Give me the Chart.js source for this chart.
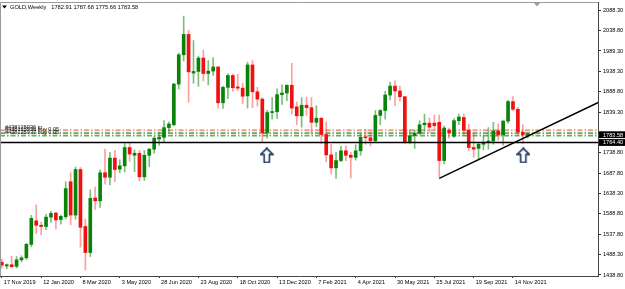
<!DOCTYPE html>
<html><head><meta charset="utf-8">
<script src="https://cdn.jsdelivr.net/npm/chart.js@4.4.1/dist/chart.umd.min.js"></script>
<style>html,body{margin:0;padding:0;background:#fff;}#wrap{width:625px;height:289px;position:relative;}</style>
</head><body><div id="wrap"><canvas id="c" width="625" height="289"></canvas></div>
<script>
// ---------- data ----------
const symbolTitle = "GOLD,Weekly";
const lastBarText = "1782.91 1787.68 1775.66 1783.58";
const opens = [1470,1461,1464,1460,1476,1481,1514,1572,1561,1558,1581,1591,1575,1582,1668,1586,1698,1558,1494,1628,
1621,1690,1679,1726,1699,1707,1752,1733,1738,1680,1733,1748,1773,1777,1801,1808,1908,1980,2030,1935,
1939,1972,1934,1940,1950,1862,1900,1929,1901,1898,1879,1955,1889,1871,1788,1838,1840,1882,1886,1905,
1852,1830,1856,1850,1814,1824,1784,1734,1702,1720,1744,1733,1728,1744,1777,1776,1769,1831,1843,1881,
1903,1891,1877,1764,1781,1787,1808,1812,1812,1814,1720,1795,1780,1818,1826,1795,1752,1750,1760,1765,
1768,1793,1783,1817,1865,1846,1790,1782.91];
const highs = [1478,1466,1485,1484,1486,1517,1585,1611,1569,1588,1595,1593,1586,1668,1690,1704,1703,1576,1648,1655,
1697,1748,1740,1745,1722,1762,1765,1746,1745,1745,1750,1779,1789,1818,1815,1910,1984,2075,2040,2015,
1976,1992,1966,1973,1951,1903,1933,1933,1932,1910,1962,1966,1900,1875,1843,1875,1896,1906,1906,1959,
1864,1875,1876,1875,1855,1826,1815,1760,1740,1755,1756,1740,1759,1785,1797,1790,1843,1845,1890,1912,
1916,1903,1877,1795,1795,1818,1834,1825,1832,1832,1805,1800,1823,1834,1834,1809,1788,1765,1781,1801,
1814,1810,1818,1868,1877,1851,1808,1787.68];
const lows = [1456,1454,1458,1456,1471,1477,1508,1540,1537,1550,1568,1552,1564,1577,1562,1576,1507,1451,1484,1600,
1605,1662,1660,1668,1690,1692,1718,1693,1670,1671,1705,1738,1757,1764,1790,1806,1896,1965,1863,1910,
1902,1916,1906,1929,1849,1848,1873,1890,1892,1860,1849,1850,1854,1764,1775,1822,1823,1858,1867,1834,
1808,1802,1831,1785,1803,1761,1717,1687,1676,1717,1720,1677,1721,1733,1760,1756,1765,1808,1822,1869,
1855,1866,1761,1761,1750,1784,1792,1790,1796,1680,1712,1775,1776,1808,1782,1745,1728,1721,1746,1748,
1760,1770,1758,1812,1842,1781,1762,1775.66];
const closes = [1463,1464,1459,1476,1481,1514,1578,1561,1558,1581,1590,1574,1583,1651,1586,1698,1556,1494,1627,1621,
1690,1679,1726,1698,1707,1752,1736,1738,1680,1733,1748,1775,1777,1801,1810,1908,1980,2030,1938,1939,
1972,1934,1940,1950,1862,1900,1929,1899,1898,1878,1955,1889,1871,1788,1838,1840,1882,1886,1905,1849,
1830,1856,1850,1814,1824,1784,1734,1702,1720,1744,1733,1728,1744,1777,1776,1769,1831,1843,1881,1903,
1891,1877,1764,1781,1787,1808,1812,1802,1806,1720,1800,1788,1818,1827,1795,1752,1748,1760,1765,1768,
1793,1783,1817,1865,1846,1790,1783,1783.58];

const xTickBars = [0,8,16,24,32,40,48,56,64,72,80,88,96,104];
const xTickLabels = ["17 Nov 2019","12 Jan 2020","8 Mar 2020","3 May 2020","28 Jun 2020","23 Aug 2020","18 Oct 2020",
  "13 Dec 2020","7 Feb 2021","4 Apr 2021","30 May 2021","25 Jul 2021","19 Sep 2021","14 Nov 2021"];
const yTicks = [1438.80,1488.30,1537.80,1588.80,1638.30,1687.80,1738.80,1839.30,1888.80,1938.30,1989.30,2038.80,2088.30];

const priceBoxes = [1783.58, 1764.40];
const supportLevel = 1764.40;
const trendBars = [89, 121.7];
const trendPrices = [1676.4, 1864.7];
const orderLevels = [1794.5, 1787.3, 1781.1];
const orderColors = ["rgba(240,140,110,0.85)", "rgba(50,145,50,0.75)", "rgba(50,145,50,0.75)"];
const orderTexts = ["#438125936 tp", "#438125936 buy 0.05", "#438125937 buy 0.05"];
const arrowBars = [53.9, 106.1];
const arrowPrices = [1732.5, 1732.5];

// ---------- styling ----------
const FONT = "'Liberation Sans', Arial, sans-serif";
const FS = 5.6;
const upBody = "#088208", dnBody = "#f01010";
const upWick = "rgba(20,135,20,0.55)", dnWick = "rgba(255,40,40,0.45)";

const isUp = opens.map((o, i) => closes[i] >= o);
const bodyData = opens.map((o, i) => ({x: i, y: [o, closes[i]]}));
const wickData = lows.map((l, i) => ({x: i, y: [l, highs[i]]}));

// arrow marker image
const arrowImg = document.createElement('canvas');
arrowImg.width = 14; arrowImg.height = 16;
(function(){
  const g = arrowImg.getContext('2d');
  g.beginPath();
  g.moveTo(7, 0.9); g.lineTo(13.1, 7); g.lineTo(9.6, 7); g.lineTo(9.6, 15.1);
  g.lineTo(4.4, 15.1); g.lineTo(4.4, 7); g.lineTo(0.9, 7); g.closePath();
  g.fillStyle = "#fff"; g.fill();
  g.lineWidth = 1.5; g.strokeStyle = "#0f2550"; g.stroke();
})();

const xMin = -0.37, xMax = 121.3, yMin = 1436.3, yMax = 2109.7;

const lineDs = (pts, color, width, dash, order) => ({
  type: 'line', data: pts, borderColor: color, borderWidth: width, borderDash: dash || [],
  pointRadius: 0, fill: false, order: order, tension: 0
});

const decor = {
  id: 'decor',
  afterDraw(chart) {
    const ctx = chart.ctx, ca = chart.chartArea;
    const ys = chart.scales.y, xs = chart.scales.x;
    ctx.save();
    // frame top/left
    ctx.strokeStyle = "#9a9a9a"; ctx.lineWidth = 1;
    ctx.beginPath(); ctx.moveTo(ca.left + 0.5, ca.bottom); ctx.lineTo(ca.left + 0.5, ca.top + 0.5);
    ctx.lineTo(ca.right, ca.top + 0.5); ctx.stroke();
    // header
    ctx.fillStyle = "#000";
    ctx.beginPath(); ctx.moveTo(2, 5.5); ctx.lineTo(7, 5.5); ctx.lineTo(4.5, 8.5); ctx.closePath(); ctx.fill();
    ctx.font = "5.7px " + FONT; ctx.textBaseline = "middle"; ctx.textAlign = "left";
    ctx.fillText(symbolTitle, 10, 7.5);
    ctx.fillText(lastBarText, 10 + ctx.measureText(symbolTitle).width + 5, 7.5);
    // chart shift marker
    const sx = xs.getPixelForValue(108.9);
    ctx.fillStyle = "#a0a0a0";
    ctx.beginPath(); ctx.moveTo(sx - 3, ca.top + 1); ctx.lineTo(sx + 3, ca.top + 1); ctx.lineTo(sx, ca.top + 4.5); ctx.closePath(); ctx.fill();
    // order labels
    ctx.font = FS + "px " + FONT;
    ctx.fillStyle = "#1a1a1a"; ctx.textBaseline = "bottom";
    orderTexts.forEach((t, i) => { ctx.fillText(t, 5, ys.getPixelForValue(orderLevels[i]) - 0.5); });
    // price boxes on axis
    ctx.textBaseline = "middle";
    priceBoxes.forEach(p => {
      const py = ys.getPixelForValue(p);
      ctx.fillStyle = "#000";
      ctx.fillRect(ca.right + 1, py - 3.4, chart.width - ca.right - 1, 6.8);
      ctx.fillStyle = "#fff";
      ctx.fillText(p.toFixed(2), ca.right + 5, py + 0.3);
    });
    ctx.restore();
  }
};

new Chart(document.getElementById('c'), {
  type: 'bar',
  data: {
    datasets: [
      {type: 'bar', data: bodyData, backgroundColor: isUp.map(u => u ? upBody : dnBody),
       barThickness: 3, grouped: false, minBarLength: 1, borderWidth: 0, order: 1},
      {type: 'bar', data: wickData, backgroundColor: isUp.map(u => u ? upWick : dnWick),
       barThickness: 1, grouped: false, borderWidth: 0, order: 2},
      ...orderLevels.map((lv, i) => lineDs([{x: xMin, y: lv}, {x: xMax, y: lv}], orderColors[i], 1.8, [5, 2, 1.5, 2], 3)),
      lineDs([{x: xMin, y: supportLevel}, {x: xMax, y: supportLevel}], "#000", 1.4, null, 0),
      lineDs(trendBars.map((b, i) => ({x: b, y: trendPrices[i]})), "#000", 1.4, null, 0),
      {type: 'scatter', data: arrowBars.map((b, i) => ({x: b, y: arrowPrices[i]})), pointStyle: arrowImg,
       pointRadius: 5, order: 0}
    ]
  },
  options: {
    responsive: false, animation: false, devicePixelRatio: 1,
    layout: {autoPadding: false, padding: {top: 2, left: 0, right: 0, bottom: 0}},
    plugins: {legend: {display: false}, tooltip: {enabled: false}},
    scales: {
      x: {
        type: 'linear', min: xMin, max: xMax, offset: false,
        grid: {display: true, offset: false, drawOnChartArea: false, tickLength: 2, color: "#333"},
        border: {display: true, color: "#444"},
        ticks: {autoSkip: false, maxRotation: 0, minRotation: 0, align: 'start', labelOffset: 2, padding: 1,
          color: "#000", font: {family: FONT, size: FS},
          callback: v => { const k = xTickBars.indexOf(v); return k >= 0 ? xTickLabels[k] : ''; }},
        afterBuildTicks: s => { s.ticks = xTickBars.map(v => ({value: v})); },
        afterFit: s => { s.height = 13; s.paddingLeft = 0; s.paddingRight = 0; }
      },
      y: {
        type: 'linear', position: 'right', min: yMin, max: yMax,
        grid: {display: true, drawOnChartArea: false, tickLength: 3, color: "#333"},
        border: {display: true, color: "#444"},
        ticks: {autoSkip: false, padding: 2, color: "#000", font: {family: FONT, size: FS},
          callback: v => Number(v).toFixed(2)},
        afterBuildTicks: s => { s.ticks = yTicks.map(v => ({value: v})); },
        afterFit: s => { s.width = 27; s.paddingTop = 0; s.paddingBottom = 0; }
      }
    }
  },
  plugins: [decor]
});
</script></body></html>
